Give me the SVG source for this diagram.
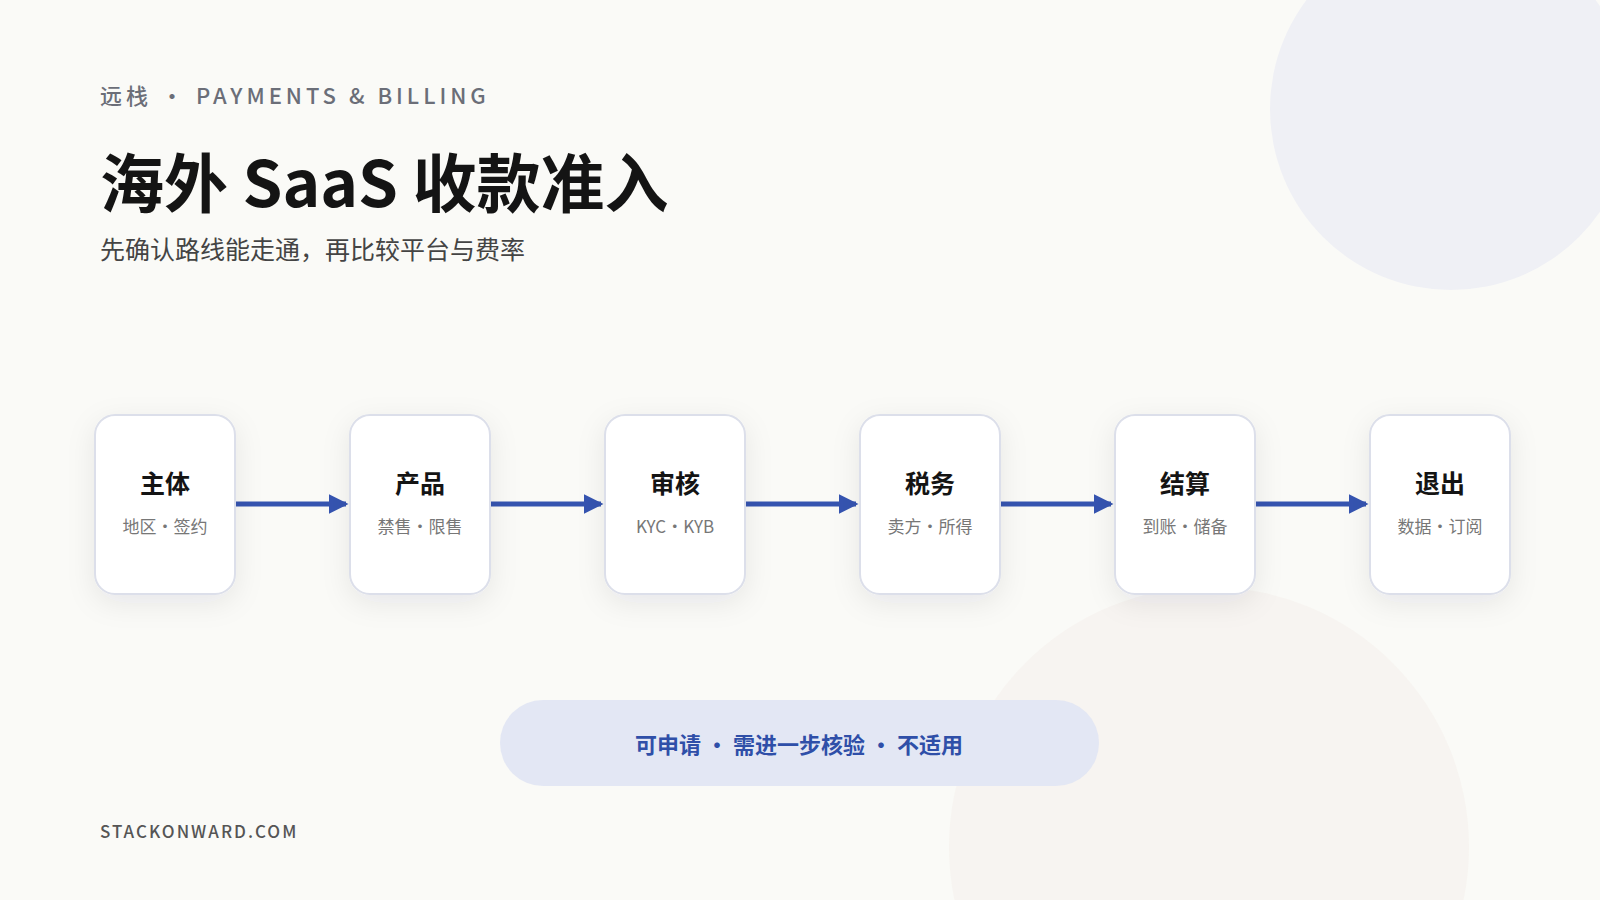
<svg xmlns="http://www.w3.org/2000/svg" width="1600" height="900" viewBox="0 0 1600 900">
<defs>
<filter id="sh" x="-40%" y="-40%" width="180%" height="180%"><feDropShadow dx="0" dy="8" stdDeviation="14" flood-color="#1a2040" flood-opacity="0.08"/></filter>
<marker id="ah" markerWidth="4" markerHeight="4" refX="3.5" refY="2" orient="auto"><path d="M0,0 L4,2 L0,4 z" fill="#3554b0"/></marker>
</defs>
<style>
text{font-family:"Noto Sans CJK SC","Inter",sans-serif}
.box{fill:#fff;stroke:#dcdfea;stroke-width:2;filter:url(#sh)}
.t{font-size:25px;font-weight:700;fill:#141414;text-anchor:middle}
.s{font-size:17px;fill:#777;text-anchor:middle}
.c{stroke:#3554b0;stroke-width:5;fill:none;marker-end:url(#ah)}
</style>
<rect width="1600" height="900" fill="#fafaf7"/>
<circle cx="1451" cy="109" r="181" fill="#eff0f5"/>
<circle cx="1209" cy="847" r="260" fill="#f6f2ef" opacity="0.8"/>
<text x="100" y="104" font-size="22" letter-spacing="4" fill="#6b6e78" font-weight="500">远栈 · PAYMENTS &amp; BILLING</text>
<text x="100" y="207" font-size="64" font-weight="700" fill="#141414">海外 SaaS 收款准入</text>
<text x="100" y="259" font-size="25" fill="#444">先确认路线能走通，再比较平台与费率</text>
<g id="connectors">
<line class="c" x1="236" y1="504" x2="346" y2="504"/>
<line class="c" x1="491" y1="504" x2="601" y2="504"/>
<line class="c" x1="746" y1="504" x2="856" y2="504"/>
<line class="c" x1="1001" y1="504" x2="1111" y2="504"/>
<line class="c" x1="1256" y1="504" x2="1366" y2="504"/>
</g>
<g id="n1"><rect class="box" x="95" y="415" width="140" height="179" rx="20"/><text class="t" x="165" y="493">主体</text><text class="s" x="165" y="533">地区·签约</text></g>
<g id="n2"><rect class="box" x="350" y="415" width="140" height="179" rx="20"/><text class="t" x="420" y="493">产品</text><text class="s" x="420" y="533">禁售·限售</text></g>
<g id="n3"><rect class="box" x="605" y="415" width="140" height="179" rx="20"/><text class="t" x="675" y="493">审核</text><text class="s" x="675" y="533">KYC·KYB</text></g>
<g id="n4"><rect class="box" x="860" y="415" width="140" height="179" rx="20"/><text class="t" x="930" y="493">税务</text><text class="s" x="930" y="533">卖方·所得</text></g>
<g id="n5"><rect class="box" x="1115" y="415" width="140" height="179" rx="20"/><text class="t" x="1185" y="493">结算</text><text class="s" x="1185" y="533">到账·储备</text></g>
<g id="n6"><rect class="box" x="1370" y="415" width="140" height="179" rx="20"/><text class="t" x="1440" y="493">退出</text><text class="s" x="1440" y="533">数据·订阅</text></g>
<g id="legend"><rect x="500" y="700" width="599" height="86" rx="43" fill="#e2e6f3" opacity="0.95"/><text x="799" y="753" font-size="22" font-weight="700" fill="#2f4fa8" text-anchor="middle">可申请 · 需进一步核验 · 不适用</text></g>
<text x="100" y="838" font-size="17" letter-spacing="2" fill="#555" font-weight="500">STACKONWARD.COM</text>
</svg>
